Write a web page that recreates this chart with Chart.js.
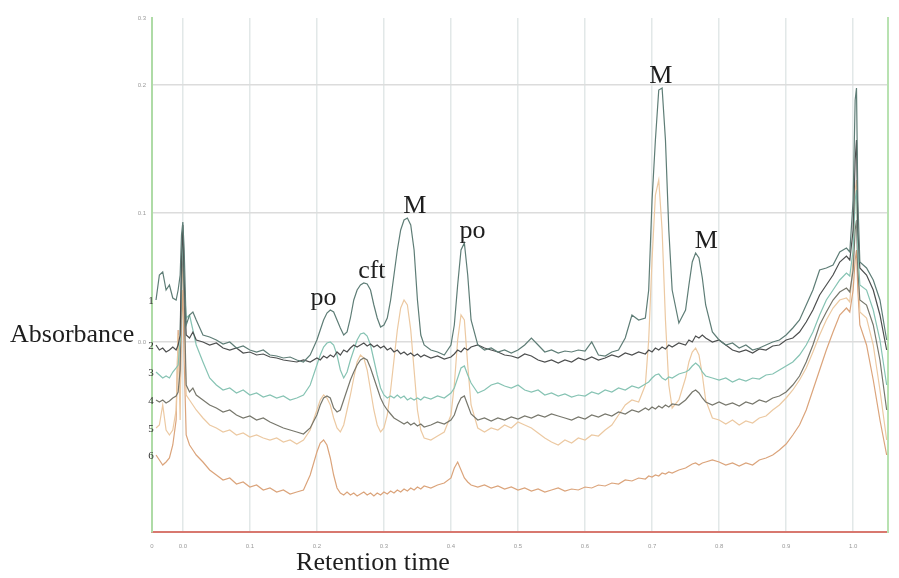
<!DOCTYPE html>
<html>
<head>
<meta charset="utf-8">
<title>Chromatogram</title>
<script src="https://cdn.jsdelivr.net/npm/chart.js@4.4.0/dist/chart.umd.min.js"></script>
<style>
  html, body { margin: 0; padding: 0; background: #fff; }
  #wrap { width: 899px; height: 578px; }
</style>
</head>
<body>
<div id="wrap"><canvas id="chromChart" width="899" height="578"></canvas></div>
<script>
// retention time (min) shared by all six runs
const retention = [
  -0.040, -0.035, -0.030, -0.025, -0.020, -0.015, -0.010, -0.007, -0.004, -0.002,
  0.000, 0.002, 0.005, 0.010, 0.015, 0.020, 0.030, 0.040, 0.050, 0.060,
  0.070, 0.080, 0.090, 0.100, 0.110, 0.120, 0.130, 0.140, 0.150, 0.160,
  0.170, 0.180, 0.190, 0.200, 0.205, 0.210, 0.215, 0.220, 0.225, 0.230,
  0.235, 0.240, 0.245, 0.250, 0.255, 0.260, 0.265, 0.270, 0.275, 0.280,
  0.285, 0.290, 0.295, 0.300, 0.305, 0.310, 0.315, 0.320, 0.325, 0.330,
  0.335, 0.340, 0.345, 0.350, 0.355, 0.360, 0.370, 0.380, 0.390, 0.400,
  0.405, 0.410, 0.415, 0.420, 0.425, 0.430, 0.440, 0.450, 0.460, 0.470,
  0.480, 0.490, 0.500, 0.510, 0.520, 0.530, 0.540, 0.550, 0.560, 0.570,
  0.580, 0.590, 0.600, 0.610, 0.620, 0.630, 0.640, 0.650, 0.660, 0.670,
  0.680, 0.690, 0.695, 0.700, 0.705, 0.710, 0.715, 0.720, 0.725, 0.730,
  0.740, 0.750, 0.755, 0.760, 0.765, 0.770, 0.775, 0.780, 0.790, 0.800,
  0.810, 0.820, 0.830, 0.840, 0.850, 0.860, 0.870, 0.880, 0.890, 0.900,
  0.910, 0.920, 0.930, 0.940, 0.950, 0.960, 0.970, 0.980, 0.990, 0.995,
  1.000, 1.003, 1.005, 1.007, 1.010, 1.020, 1.030, 1.040, 1.050
];

// detector signal of each run (arbitrary units, offset traces)
const run1 = [
  232, 257, 260, 242, 247, 234, 232, 242, 257, 297,
  310, 282, 207, 217, 220, 212, 197, 195, 192, 188,
  190, 184, 186, 182, 180, 182, 177, 176, 174, 175,
  172, 170, 177, 192, 202, 212, 219, 222, 220, 212,
  204, 197, 200, 214, 232, 242, 247, 249, 248, 242,
  227, 214, 205, 207, 214, 232, 257, 282, 302, 312,
  314, 307, 282, 232, 197, 187, 182, 180, 177, 187,
  207, 247, 282, 289, 257, 212, 187, 182, 184, 180,
  182, 179, 182, 187, 194, 187, 180, 182, 179, 181,
  180, 182, 181, 190, 177, 176, 180, 182, 194, 217,
  212, 214, 242, 332, 392, 442, 444, 392, 302, 242,
  209, 222, 247, 270, 279, 274, 254, 227, 200, 192,
  187, 189, 184, 187, 182, 184, 187, 190, 192, 197,
  204, 212, 227, 242, 262, 264, 267, 280, 284, 280,
  332, 432, 444, 332, 270, 264, 252, 232, 192
];
const run2 = [
  187, 182, 184, 180, 182, 185, 182, 187, 197, 272,
  307, 252, 197, 194, 200, 192, 190, 187, 189, 184,
  182, 184, 179, 180, 177, 178, 175, 174, 172, 171,
  170, 172, 170, 174, 172, 176, 174, 177, 175, 180,
  177, 182, 180, 184, 187, 185, 187, 189, 186, 188,
  185, 187, 184, 186, 182, 184, 180, 182, 178, 180,
  177, 179, 176, 178, 175, 177, 174, 176, 173, 175,
  178, 182, 180, 184, 182, 185, 187, 184, 182, 180,
  177, 176, 174, 178, 176, 172, 170, 172, 169, 172,
  170, 174, 172, 175, 172, 174, 177, 175, 179, 177,
  180, 178, 182, 180, 184, 182, 185, 183, 187, 185,
  189, 187, 192, 190, 196, 194, 197, 194, 190, 192,
  187, 182, 180, 182, 179, 183, 182, 186, 187, 192,
  194, 200, 210, 222, 237, 247, 257, 270, 276, 272,
  302, 372, 392, 302, 264, 257, 242, 217, 182
];
const run3 = [
  160, 157, 154, 156, 154, 160, 164, 167, 192, 262,
  300, 247, 214, 217, 202, 187, 170, 154, 147, 142,
  144, 139, 142, 137, 139, 135, 137, 134, 136, 132,
  134, 137, 147, 167, 177, 185, 189, 190, 187, 177,
  162, 154, 160, 172, 182, 192, 198, 199, 196, 187,
  172, 157, 144, 137, 134, 136, 134, 137, 134, 136,
  132, 134, 132, 134, 132, 135, 133, 136, 134, 139,
  144, 154, 164, 166, 157, 149, 139, 142, 147, 149,
  146, 144, 147, 142, 140, 142, 137, 139, 136, 138,
  135, 137, 136, 140, 138, 142, 140, 144, 142, 146,
  144, 148, 150, 154, 157, 158, 154, 152, 155, 154,
  158, 160, 162, 166, 169, 166, 160, 156, 154, 152,
  154, 150, 153, 151, 154, 153, 157, 158, 162, 166,
  170, 177, 187, 200, 217, 232, 242, 252, 259, 256,
  282, 332, 342, 282, 247, 242, 222, 192, 147
];
const run4 = [
  132, 130, 132, 129, 131, 134, 136, 140, 162, 242,
  292, 232, 147, 140, 144, 137, 132, 127, 124, 120,
  122, 117, 114, 116, 112, 114, 110, 107, 104, 102,
  100, 98, 104, 117, 127, 134, 136, 134, 124, 120,
  122, 132, 142, 152, 160, 167, 172, 174, 172, 164,
  154, 144, 134, 127, 122, 118, 114, 112, 110, 108,
  110, 107, 109, 106, 108, 105, 107, 110, 108, 112,
  117, 127, 134, 136, 127, 118, 112, 114, 111, 114,
  112, 115, 113, 116, 114, 117, 115, 118, 116, 114,
  112, 115, 113, 117, 115, 118, 116, 120, 118, 122,
  120, 124, 122, 125, 123, 126, 124, 127, 125, 128,
  127, 132, 136, 140, 142, 139, 134, 130, 127, 130,
  127, 129, 126, 130, 128, 132, 130, 134, 136, 140,
  147, 156, 170, 187, 207, 220, 232, 240, 244, 240,
  262, 302, 312, 262, 232, 227, 207, 172, 122
];
const run5 = [
  104, 107, 127, 102, 97, 102, 122, 197, 112, 232,
  282, 212, 137, 132, 127, 122, 114, 107, 104, 100,
  102, 97, 99, 95, 97, 94, 92, 94, 90, 92,
  88, 92, 102, 122, 132, 137, 134, 127, 114, 104,
  100, 107, 122, 137, 154, 170, 177, 174, 162, 142,
  122, 107, 100, 104, 117, 142, 172, 202, 224, 232,
  227, 202, 162, 122, 102, 94, 92, 96, 100, 117,
  147, 192, 217, 212, 167, 127, 104, 100, 104, 102,
  107, 104, 110, 107, 104, 99, 94, 90, 87, 92,
  89, 94, 92, 97, 96, 102, 107, 117, 127, 132,
  130, 147, 192, 272, 337, 352, 302, 212, 147, 124,
  132, 154, 170, 180, 184, 177, 157, 132, 114, 112,
  108, 112, 107, 111, 109, 114, 116, 122, 127, 134,
  142, 152, 164, 180, 197, 212, 224, 232, 234, 230,
  272, 342, 352, 272, 220, 214, 187, 142, 92
];
const run6 = [
  77, 72, 67, 70, 74, 87, 112, 202, 132, 212,
  242, 172, 97, 87, 82, 77, 70, 62, 57, 52,
  54, 48, 50, 45, 47, 42, 44, 40, 42, 38,
  40, 42, 57, 80, 89, 92, 87, 74, 57, 44,
  39, 37, 40, 37, 39, 36, 38, 40, 37, 39,
  36, 39, 37, 40, 38, 41, 39, 42, 40, 43,
  41, 44, 42, 45, 43, 46, 44, 47, 49, 54,
  64, 70, 62, 54, 50, 47, 45, 47, 44, 46,
  43, 45, 42, 44, 41, 43, 40, 42, 44, 41,
  43, 42, 45, 44, 47, 46, 49, 48, 52, 51,
  54, 53, 56, 55, 57, 56, 59, 58, 60, 59,
  62, 64, 66, 68, 69, 67, 69, 70, 72, 70,
  67, 69, 66, 69, 67, 72, 74, 77, 82, 88,
  97, 107, 122, 142, 162, 182, 200, 217, 224, 220,
  242, 272, 282, 242, 207, 187, 152, 112, 77
];

const runNames = ['1', '2', '3', '4', '5', '6'];
const runColors = ['#5e7d76', '#4d4f4f', '#86c3b3', '#77776c', '#ecc9a2', '#dba47b'];
const runs = [run1, run2, run3, run4, run5, run6];

// tick positions
const timeTicks = [0.0, 0.1, 0.2, 0.3, 0.4, 0.5, 0.6, 0.7, 0.8, 0.9, 1.0];
const signalTicks = [190, 319, 447, 514];

// peak annotations (placed over run 1)
const peakText = ['po', 'cft', 'M', 'po', 'M', 'M'];
const peakTimes = [0.210, 0.282, 0.346, 0.432, 0.713, 0.781];

const X_MIN = -0.046, X_MAX = 1.052;
const Y_MIN = 0, Y_MAX = 514;

const annotations = {
    id: 'annotations',
    afterDatasetsDraw(chart) {
        const { ctx, chartArea } = chart;
        const xs = chart.scales.x, ys = chart.scales.y;
        ctx.save();
        ctx.fillStyle = '#1e1e1e';
        ctx.font = '26px "Liberation Serif", "DejaVu Serif", serif';
        ctx.textBaseline = 'alphabetic';

        // axis titles
        ctx.textAlign = 'left';
        ctx.fillText('Absorbance', 10, ys.getPixelForValue(signalTicks[0]));
        ctx.textAlign = 'center';
        ctx.fillText('Retention time', 373, 570);

        // peak names, sitting on top of the highest run-1 point nearby
        peakText.forEach((txt, k) => {
            const t = peakTimes[k];
            let top = -Infinity;
            retention.forEach((r, i) => {
                if (Math.abs(r - t) <= 0.02 && run1[i] > top) top = run1[i];
            });
            ctx.fillText(txt, xs.getPixelForValue(t), ys.getPixelForValue(top) - 5);
        });

        // run numbers at the start of each trace
        ctx.font = '11px "Liberation Serif", "DejaVu Serif", serif';
        ctx.fillStyle = '#333';
        runs.forEach((r, k) => {
            ctx.fillText(runNames[k], chartArea.left - 1, ys.getPixelForValue(r[0]) + 4);
        });
        ctx.restore();
    }
};

const datasets = runs.map((vals, k) => ({
    label: runNames[k],
    data: retention.map((t, i) => ({ x: t, y: vals[i] })),
    borderColor: runColors[k],
    borderWidth: 1.2,
    pointRadius: 0,
    tension: 0,
    fill: false,
    yAxisID: 'y'
}));

new Chart(document.getElementById('chromChart').getContext('2d'), {
    type: 'line',
    data: { datasets: datasets },
    plugins: [annotations],
    options: {
        responsive: false,
        animation: false,
        layout: { padding: { top: 18, left: 0, right: 0, bottom: 0 } },
        plugins: { legend: { display: false }, tooltip: { enabled: false } },
        scales: {
            x: {
                type: 'linear',
                min: X_MIN,
                max: X_MAX,
                afterFit: s => { s.height = 46; },
                afterBuildTicks: s => { s.ticks = [X_MIN].concat(timeTicks).map(v => ({ value: v })); },
                ticks: {
                    autoSkip: false,
                    maxRotation: 0,
                    padding: 11,
                    font: { size: 6 },
                    color: '#9a9a9a',
                    callback: v => (v < 0 ? '0' : v.toFixed(1))
                },
                grid: {
                    drawTicks: false,
                    lineWidth: 1.5,
                    color: c => (c.index === 0 ? 'rgba(0,0,0,0)' : '#e2e8e8')
                },
                border: { color: '#d8786f', width: 2 }
            },
            y: {
                min: Y_MIN,
                max: Y_MAX,
                afterFit: s => { s.width = 152; },
                afterBuildTicks: s => { s.ticks = signalTicks.map(v => ({ value: v })); },
                ticks: {
                    padding: 6,
                    font: { size: 6 },
                    color: '#9a9a9a',
                    callback: v => ((v - 190) / 1285).toFixed(1)
                },
                grid: {
                    drawTicks: false,
                    lineWidth: 1.5,
                    color: c => (c.tick && c.tick.value === Y_MAX ? 'rgba(0,0,0,0)' : '#dcdcdc')
                },
                border: { color: '#aedba6', width: 2 }
            },
            y2: {
                position: 'right',
                min: Y_MIN,
                max: Y_MAX,
                afterFit: s => { s.width = 11; },
                grid: { display: false },
                ticks: { display: false },
                border: { color: '#b8e2b1', width: 2 }
            }
        }
    }
});
</script>
</body>
</html>
